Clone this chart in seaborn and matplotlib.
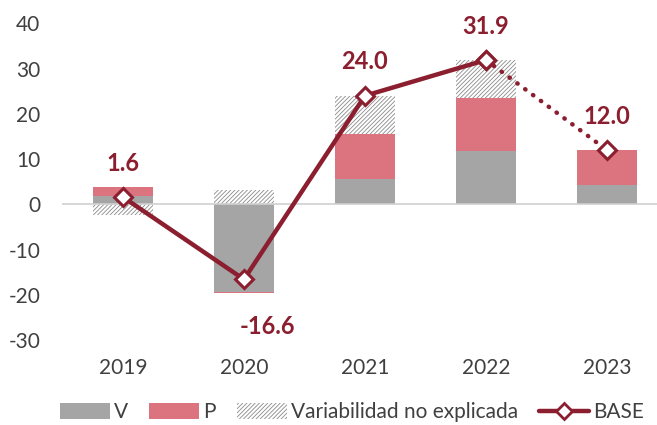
import numpy as np
import pandas as pd
import matplotlib
matplotlib.use("Agg")
import matplotlib.pyplot as plt
import seaborn as sns
from matplotlib.patches import Patch
from matplotlib.lines import Line2D

years = ["2019", "2020", "2021", "2022", "2023"]
v_vals = [1.9, -19.3, 5.7, 11.8, 4.2]
p_vals = [2.0, -0.4, 9.8, 11.8, 7.8]
u_vals = [-2.3, 3.1, 8.5, 8.3, 0.0]
base_vals = [1.6, -16.6, 24.0, 31.9, 12.0]
label_pos = ["above", "below", "above", "above", "above"]

sns.set_theme(style="white")
plt.rcParams["font.family"] = ["Lato", "DejaVu Sans"]
plt.rcParams["hatch.linewidth"] = 0.6
plt.rcParams["axes.unicode_minus"] = False

GRAY = "#A5A5A5"
PINK = "#DC7480"
DARK = "#8B1E2F"
TXT = "#404040"
HATCH = "#8A8A8A"

fig = plt.figure(figsize=(6.57, 4.25), dpi=100)
ax = fig.add_axes([0.0951, 0.20, 0.906, 0.745])

# sign-based stacking
pos_acc = np.zeros(len(years))
neg_acc = np.zeros(len(years))
def bottoms(vals):
    vals = np.asarray(vals, dtype=float)
    b = np.where(vals >= 0, pos_acc, neg_acc)
    pos_acc[:] = pos_acc + np.where(vals >= 0, vals, 0)
    neg_acc[:] = neg_acc + np.where(vals < 0, vals, 0)
    return b

bv = bottoms(v_vals)
bp = bottoms(p_vals)
bu = bottoms(u_vals)

sns.barplot(x=years, y=v_vals, bottom=bv, color=GRAY, width=0.5, linewidth=0,
            saturation=1, ax=ax, errorbar=None)
sns.barplot(x=years, y=p_vals, bottom=bp, color=PINK, width=0.5, linewidth=0,
            saturation=1, ax=ax, errorbar=None)
sns.barplot(x=years, y=u_vals, bottom=bu, color="white", width=0.5, linewidth=0,
            edgecolor=HATCH, hatch="////////", saturation=1, ax=ax, errorbar=None)

xs = np.arange(len(years))
sns.lineplot(x=xs[:4], y=base_vals[:4], color=DARK, linewidth=3.2, ax=ax,
             marker="D", markersize=9, markerfacecolor="white",
             markeredgecolor=DARK, markeredgewidth=2.2, zorder=5)
sns.lineplot(x=xs[3:], y=base_vals[3:], color=DARK, linewidth=3.2, ax=ax,
             linestyle=(0, (0.1, 2.1)), dash_capstyle="round", zorder=4)
sns.lineplot(x=xs[3:], y=base_vals[3:], color=DARK, linewidth=0, ax=ax,
             marker="D", markersize=9, markerfacecolor="white",
             markeredgecolor=DARK, markeredgewidth=2.2, zorder=6)

for x, y, pos in zip(xs, base_vals, label_pos):
    if pos == "above":
        ax.text(x, y + 7.5, f"{y:.1f}", ha="center", va="center", fontsize=17,
                fontweight="bold", color=DARK)
    else:
        ax.text(x + 0.19, y - 10.4, f"{y:.1f}", ha="center", va="center",
                fontsize=17, fontweight="bold", color=DARK)

ax.axhline(0, color="#D0D0D0", linewidth=1.2, zorder=1)
ax.set_ylim(-30, 40)
ax.set_xlim(-0.5, 4.42)
ax.set_yticks(range(-30, 41, 10))
for s in ax.spines.values():
    s.set_visible(False)
ax.tick_params(axis="y", labelsize=15, labelcolor=TXT, length=0, pad=16)
ax.tick_params(axis="x", labelsize=15, labelcolor=TXT, length=0, pad=13)
ax.set_xlabel("")
ax.set_ylabel("")

handles = [
    Patch(facecolor=GRAY, edgecolor="none", label="V"),
    Patch(facecolor=PINK, edgecolor="none", label="P"),
    Patch(facecolor="white", edgecolor=HATCH, hatch="////////", linewidth=0,
          label="Variabilidad no explicada"),
    Line2D([0], [0], color=DARK, linewidth=3.2, marker="D", markersize=8,
           markerfacecolor="white", markeredgecolor=DARK, markeredgewidth=2,
           label="BASE"),
]
fig.legend(handles=handles, loc="center", bbox_to_anchor=(0.536, 0.03), ncol=4,
           frameon=False, fontsize=15, labelcolor=TXT, handlelength=2.4,
           handleheight=0.8, handletextpad=0.2, columnspacing=1.0,
           borderpad=0, borderaxespad=0)

fig.savefig("out.png", dpi=100)
